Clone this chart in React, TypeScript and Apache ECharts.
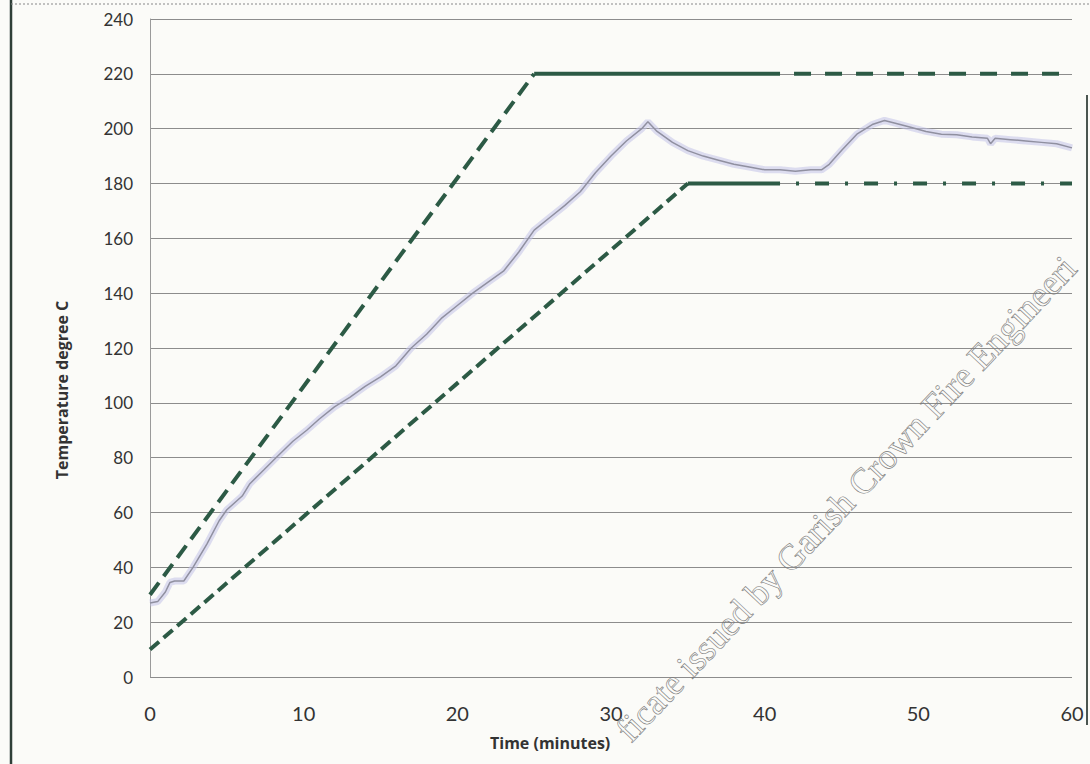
import React, { useEffect, useRef } from "react";
import * as echarts from "echarts";

const timeMin = [0, 0.5, 1, 1.3, 1.6, 2.2, 2.8, 3.7, 4.5, 5, 6, 6.5, 7.4, 8.2, 9.3, 10.2, 11, 12, 13, 14, 15, 16, 17, 18, 19, 20, 21, 22, 23, 24, 25, 26, 27, 28, 29, 30, 31, 32, 32.4, 33, 34, 35, 36, 37, 38, 39, 40, 41, 42, 43, 43.7, 44.2, 45, 46, 47, 47.8, 48.5, 49.5, 50.5, 51.5, 52.5, 53.5, 54.5, 54.7, 55, 56, 57, 58, 59, 60];
const measuredTemp = [27, 27.5, 31, 34.5, 35, 35, 40, 48.5, 57, 61, 66, 70.5, 75.5, 80, 86, 90, 94, 98.5, 102, 106, 109.5, 113.5, 120, 125, 131, 135.5, 140, 144, 148, 155, 163, 167.5, 172, 177, 184, 190, 195.5, 200, 202.5, 199, 195, 192, 190, 188.5, 187, 186, 185, 185, 184.5, 185, 185, 187, 192, 198, 201.5, 203, 202, 200.5, 199, 198, 197.8, 197, 196.5, 194.5, 196.5, 196, 195.5, 195, 194.5, 193];

// Upper limit: ramp, solid plateau, dashed plateau
const upperRamp = [[0, 30], [25, 220]];
const upperSolid = [[25, 220], [41, 220]];
const upperTail = [[41, 220], [60, 220]];
// Lower limit
const lowerRamp = [[0, 10], [35, 180]];
const lowerSolid = [[35, 180], [41, 180]];
const lowerTail = [[41, 180], [60, 180]];

const yTicks = [0, 20, 40, 60, 80, 100, 120, 140, 160, 180, 200, 220, 240];
const xTicks = [0, 10, 20, 30, 40, 50, 60];

const xTitle = "Time (minutes)";
const yTitle = "Temperature degree C";
const watermark = "ficate issued by Garish Crown Fire Engineeri";

const GREEN = "#2c5a45";

export default function App() {
  const ref = useRef<HTMLDivElement>(null);
  useEffect(() => {
    if (!ref.current) return;
    const chart = echarts.init(ref.current, undefined, { renderer: "svg" });
    const measured = timeMin.map((t, i) => [t, measuredTemp[i]]);
    const limLine = (data: number[][], type: any, dashOffset = 0, width = 4) => ({
      type: "line",
      data,
      symbol: "none",
      silent: true,
      z: 5,
      lineStyle: { color: GREEN, width, type, cap: "butt", dashOffset },
    });
    const ang = (46.6 * Math.PI) / 180;
    chart.setOption({
      animation: false,
      backgroundColor: "#fbfbf8",
      grid: { left: 150, right: 18, top: 19, bottom: 87, containLabel: false },
      xAxis: {
        type: "value",
        min: 0,
        max: 60,
        interval: 10,
        axisLine: { show: false },
        axisTick: { show: false },
        splitLine: { show: false },
        axisLabel: {
          margin: 26,
          fontSize: 20,
          color: "#333",
          fontFamily: "Lato",
          formatter: (v: number) => (xTicks.includes(v) ? String(v) : ""),
        },
      },
      yAxis: {
        type: "value",
        min: 0,
        max: 240,
        interval: 20,
        axisLine: { show: true, lineStyle: { color: "#9a9a9a", width: 1 } },
        axisTick: { show: false },
        splitLine: { show: true, lineStyle: { color: "#8c8c8c", width: 1 } },
        axisLabel: {
          margin: 17,
          fontSize: 17,
          color: "#333",
          fontFamily: "Lato",
          formatter: (v: number) => (yTicks.includes(v) ? String(v) : ""),
        },
      },
      series: [
        {
          type: "line",
          data: measured,
          symbol: "none",
          silent: true,
          z: 3,
          lineStyle: { color: "rgba(195,195,232,0.55)", width: 7 },
        },
        {
          type: "line",
          data: measured,
          symbol: "none",
          silent: true,
          z: 4,
          lineStyle: { color: "#9090a0", width: 1.5 },
        },
        limLine(upperRamp, [15, 8]),
        limLine(upperSolid, "solid"),
        limLine(upperTail, [17, 14], 17),
        limLine(lowerRamp, [12, 6]),
        limLine(lowerSolid, "solid"),
        limLine(lowerTail, [14, 16, 3, 16], 14),
      ],
      graphic: [
        {
          type: "line",
          shape: { x1: 11, y1: 0, x2: 11, y2: 764 },
          style: { stroke: "#2f3f38", lineWidth: 2.5 },
        },
        {
          type: "line",
          shape: { x1: 11, y1: 4, x2: 1090, y2: 4 },
          style: { stroke: "#888", lineWidth: 1.2, lineDash: [2, 2] },
        },
        {
          type: "line",
          shape: { x1: 1087, y1: 95, x2: 1087, y2: 725 },
          style: { stroke: "#4a5550", lineWidth: 2 },
        },
        {
          type: "text",
          left: 490,
          top: 735,
          style: {
            text: xTitle,
            font: "bold 16px 'Open Sans'",
            fill: "#333",
          },
        },
        {
          type: "text",
          x: 62,
          y: 390,
          rotation: Math.PI / 2,
          style: {
            text: yTitle,
            font: "bold 16px 'Open Sans'",
            fill: "#333",
            align: "center",
            verticalAlign: "middle",
          },
        },
        {
          type: "text",
          x: 1070,
          y: 262,
          rotation: ang,
          z: 100,
          style: {
            text: watermark,
            font: "36px 'Liberation Serif'",
            fill: "rgba(255,255,255,0)",
            stroke: "#7a7a7a",
            lineWidth: 0.6,
            align: "right",
            verticalAlign: "middle",
          },
        },
      ],
    });
    return () => chart.dispose();
  }, []);
  return (
    <div
      ref={ref}
      style={{ position: "fixed", left: 0, top: 0, width: 1090, height: 764 }}
    />
  );
}
